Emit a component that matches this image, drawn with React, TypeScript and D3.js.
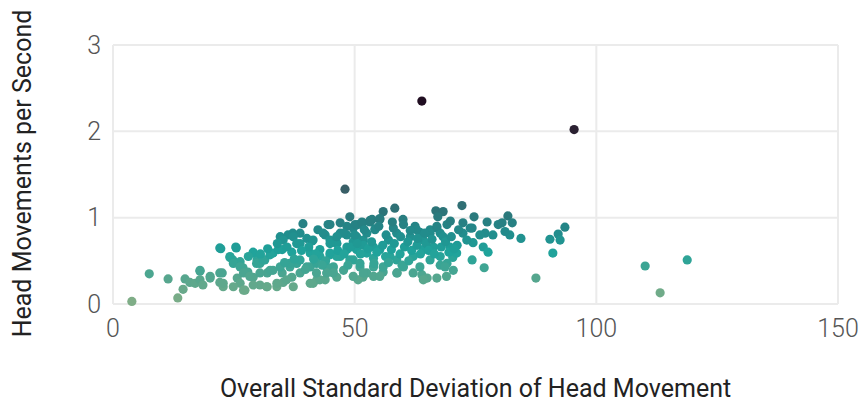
import React, { useEffect, useRef } from "react";
import * as d3 from "d3";

// overall SD of head movement (x) and head movements per second (y)
const sdValues = [
  63.9, 95.4, 48.0,
  49.0, 39.3, 44.5, 42.4, 34.6, 36.2, 37.2, 38.7, 41.2, 43.9, 47.0, 48.4, 49.7, 51.7, 53.2,
  22.3, 25.5, 24.2, 24.8, 29.0, 29.8, 30.4, 31.4, 33.1, 35.0, 37.0, 26.3, 26.9, 27.9, 29.0,
  7.5, 11.4, 14.9, 15.9, 17.0, 18.0, 18.0, 14.5, 18.6, 20.1, 22.6, 22.1, 22.8, 25.7, 26.3, 27.3,
  3.9, 13.4, 30.4, 31.9, 33.9, 35.2, 37.0, 31.9, 33.1, 35.0, 36.6, 38.0, 38.7, 40.8, 42.2, 43.9, 41.4,
  42.8, 44.9, 47.0, 48.4, 49.7, 51.1, 52.5, 53.9, 44.9, 46.3, 49.7, 51.8, 53.9,
  58.3, 55.9, 53.6, 50.7, 49.7, 55.2, 60.0, 54.2, 62.5, 63.5, 65.6, 67.0, 67.7,
  66.8, 68.3, 67.2, 69.1, 72.2, 74.7, 72.4, 74.3, 77.4, 77.0, 78.6, 79.7, 80.5, 81.7, 82.6, 82.1, 84.4,
  72.4, 74.5, 76.6, 77.6, 74.3, 76.8, 70.3, 69.1, 67.7, 71.2, 87.5, 93.5, 92.1, 90.4, 92.5, 91.0,
  63.9, 65.0, 58.8, 55.9, 51.7, 50.7, 46.3, 45.5,
  110.1, 118.8, 113.2,
  44.9, 47.0, 48.4, 50.1, 51.5, 53.2, 55.2, 54.2, 52.5, 50.4, 47.7, 46.3, 48.4, 50.4, 51.8, 52.5,
  53.9, 55.2, 57.0, 58.7, 60.1, 61.5, 62.8, 64.2, 65.6, 67.0, 68.3, 69.7, 71.1, 67.7, 65.6, 63.5,
  62.1, 60.1, 58.7, 57.3, 55.9, 53.9, 51.8, 49.7, 47.7, 45.6, 46.3, 49.0, 51.1, 62.1, 64.2, 66.3,
  68.7, 70.4, 69.0, 67.0, 64.2, 58.7, 55.2,
  22.1, 25.4, 24.2, 24.9, 29.0, 29.7, 31.1, 32.5, 34.2, 35.2, 37.3, 38.7, 40.1, 41.4, 43.5, 44.9,
  46.3, 40.8, 42.8, 44.9, 26.3, 27.0, 28.3, 30.4, 32.5, 34.6, 36.6, 38.7, 40.1, 42.1, 44.2, 45.6,
  18.0, 20.1, 22.1, 22.8, 24.9, 27.0, 29.0, 31.8, 33.9, 35.9, 37.3, 40.8, 42.8, 42.1, 44.2,
  75.9, 73.2, 81.1, 73.9,
  46.5, 47.8, 49.2, 50.5, 51.2, 52.8, 53.5, 54.6, 55.8, 56.4, 57.6, 58.2, 59.4, 60.3, 61.0, 61.8,
  62.9, 63.6, 64.8, 65.3, 66.5, 67.9, 68.8, 69.5, 70.6, 57.0, 59.8, 61.2, 54.0, 48.6, 44.0, 42.0,
  40.5, 39.0, 38.0, 36.0, 34.0, 32.0, 30.5, 28.0, 41.5, 43.3, 39.8, 37.5, 35.5, 56.5, 58.0, 59.5,
  61.5, 63.0, 64.5, 66.0, 70.0, 71.5, 69.8, 57.8, 55.0, 52.0, 50.0
];

const rateValues = [
  2.35, 2.02, 1.33,
  1.01, 0.93, 0.92, 0.86, 0.78, 0.80, 0.82, 0.82, 0.73, 0.80, 0.82, 0.80, 0.89, 0.94, 0.95,
  0.64, 0.65, 0.54, 0.51, 0.60, 0.51, 0.47, 0.51, 0.59, 0.63, 0.60, 0.49, 0.42, 0.37, 0.31,
  0.35, 0.29, 0.29, 0.25, 0.24, 0.28, 0.38, 0.17, 0.22, 0.30, 0.36, 0.25, 0.20, 0.30, 0.24, 0.16,
  0.03, 0.07, 0.22, 0.20, 0.20, 0.25, 0.31, 0.36, 0.39, 0.36, 0.43, 0.47, 0.36, 0.43, 0.28, 0.28, 0.24,
  0.63, 0.57, 0.55, 0.63, 0.51, 0.43, 0.36, 0.32, 0.74, 0.70, 0.72, 0.74, 0.66,
  1.11, 1.07, 0.98, 0.92, 0.88, 0.98, 0.98, 0.87, 0.90, 0.83, 0.86, 0.88, 0.82,
  1.08, 1.07, 1.01, 0.92, 1.14, 1.01, 0.94, 0.88, 0.95, 0.82, 0.80, 0.92, 0.94, 1.02, 0.94, 0.80, 0.76,
  0.82, 0.71, 0.66, 0.60, 0.51, 0.42, 0.54, 0.47, 0.45, 0.68, 0.30, 0.89, 0.81, 0.75, 0.74, 0.59,
  0.34, 0.30, 0.36, 0.37, 0.31, 0.28, 0.31, 0.39,
  0.44, 0.51, 0.13,
  0.92, 0.94, 0.90, 0.92, 0.95, 0.97, 0.99, 0.86, 0.82, 0.78, 0.82, 0.70, 0.66, 0.63, 0.68, 0.59,
  0.53, 0.63, 0.74, 0.82, 0.92, 0.78, 0.86, 0.74, 0.82, 0.90, 0.78, 0.66, 0.59, 0.55, 0.51, 0.43,
  0.36, 0.43, 0.51, 0.55, 0.43, 0.43, 0.36, 0.32, 0.39, 0.43, 0.55, 0.51, 0.47, 0.55, 0.63, 0.66,
  0.43, 0.39, 0.32, 0.30, 0.28, 0.36, 0.32,
  0.65, 0.66, 0.55, 0.47, 0.59, 0.47, 0.51, 0.57, 0.63, 0.74, 0.78, 0.70, 0.76, 0.74, 0.82, 0.70,
  0.78, 0.59, 0.55, 0.59, 0.43, 0.36, 0.32, 0.36, 0.39, 0.43, 0.47, 0.51, 0.43, 0.47, 0.43, 0.36,
  0.39, 0.32, 0.36, 0.24, 0.20, 0.16, 0.22, 0.20, 0.24, 0.28, 0.20, 0.24, 0.28, 0.36, 0.36,
  0.80, 0.74, 0.84, 0.88,
  0.62, 0.58, 0.66, 0.70, 0.58, 0.64, 0.72, 0.60, 0.68, 0.55, 0.63, 0.70, 0.58, 0.66, 0.72, 0.62,
  0.68, 0.58, 0.70, 0.62, 0.58, 0.66, 0.72, 0.60, 0.64, 0.48, 0.45, 0.50, 0.47, 0.45, 0.50, 0.58,
  0.66, 0.62, 0.70, 0.66, 0.70, 0.64, 0.58, 0.55, 0.52, 0.45, 0.40, 0.52, 0.48, 0.80, 0.88, 0.78,
  0.85, 0.76, 0.82, 0.75, 0.78, 0.86, 0.96, 0.95, 0.90, 0.86, 0.80
];

const xTicks = [0, 50, 100, 150];
const yTicks = [0, 1, 2, 3];

// colour follows the movement rate
const colorStops = [0, 0.3, 0.6, 0.85, 1.05, 1.35, 2.0, 2.4];
const colorRange = ["#84ae86", "#55a68e", "#1fa39b", "#22898a", "#2c767a", "#3a5d66", "#2c2233", "#1e0a1e"];

export default function App() {
  const svgRef = useRef<SVGSVGElement>(null);

  useEffect(() => {
    const width = 862;
    const height = 408;
    const marginLeft = 113;
    const marginRight = 24;
    const marginTop = 45;
    const marginBottom = 104;

    const svg = d3.select(svgRef.current)
      .attr("width", width)
      .attr("height", height)
      .attr("viewBox", [0, 0, width, height])
      .style("font-family", "Roboto, sans-serif");

    svg.selectAll("*").remove();

    const x = d3.scaleLinear().domain([0, 150]).range([marginLeft, width - marginRight]);
    const y = d3.scaleLinear().domain([0, 3]).range([height - marginBottom, marginTop]);
    const color = d3.scaleLinear<string>().domain(colorStops).range(colorRange).interpolate(d3.interpolateRgb);

    // grid
    const grid = svg.append("g")
      .attr("stroke", "#ebebeb")
      .attr("stroke-width", 2);

    grid.selectAll("line.v")
      .data(xTicks)
      .join("line")
      .attr("class", "v")
      .attr("x1", d => x(d))
      .attr("x2", d => x(d))
      .attr("y1", y(3))
      .attr("y2", y(0));

    grid.selectAll("line.h")
      .data(yTicks)
      .join("line")
      .attr("class", "h")
      .attr("x1", x(0))
      .attr("x2", x(150))
      .attr("y1", d => y(d))
      .attr("y2", d => y(d));

    // tick labels
    svg.append("g")
      .selectAll("text")
      .data(xTicks)
      .join("text")
      .attr("x", d => x(d))
      .attr("y", y(0) + 33)
      .attr("text-anchor", "middle")
      .attr("font-size", 25)
      .attr("font-weight", 300)
      .attr("fill", "#555")
      .text(d => d);

    svg.append("g")
      .selectAll("text")
      .data(yTicks)
      .join("text")
      .attr("x", x(0) - 12)
      .attr("y", d => y(d))
      .attr("dy", "0.35em")
      .attr("text-anchor", "end")
      .attr("font-size", 25)
      .attr("font-weight", 300)
      .attr("fill", "#555")
      .text(d => d);

    // points
    const points = sdValues.map((v, i) => ({ sd: v, rate: rateValues[i] }));

    svg.append("g")
      .selectAll("circle")
      .data(points)
      .join("circle")
      .attr("cx", d => x(d.sd))
      .attr("cy", d => y(d.rate))
      .attr("r", 4.6)
      .attr("fill", d => color(d.rate));

    // axis titles
    svg.append("text")
      .attr("x", (x(0) + x(150)) / 2)
      .attr("y", 397)
      .attr("text-anchor", "middle")
      .attr("font-size", 25)
      .attr("fill", "#222")
      .text("Overall Standard Deviation of Head Movement");

    svg.append("text")
      .attr("transform", `translate(31, ${(y(0) + y(3)) / 2 - 1}) rotate(-90)`)
      .attr("text-anchor", "middle")
      .attr("font-size", 25)
      .attr("fill", "#222")
      .text("Head Movements per Second");

    return () => {
      d3.select(svgRef.current).selectAll("*").remove();
    };
  }, []);

  return (
    <div style={{ position: "absolute", left: 0, top: 0 }}>
      <svg ref={svgRef} style={{ display: "block" }} />
    </div>
  );
}
